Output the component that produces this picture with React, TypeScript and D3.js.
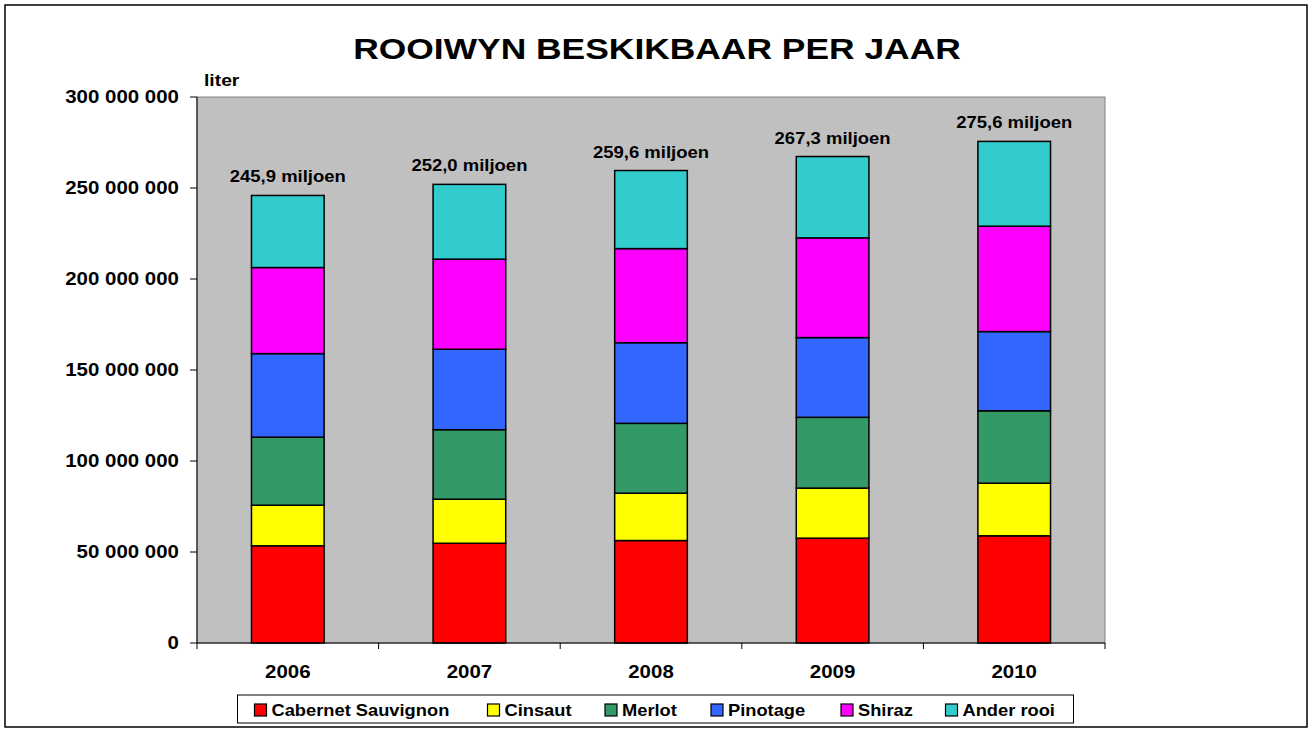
import React from "react";
import * as d3 from "d3";

const title = "ROOIWYN BESKIKBAAR PER JAAR";
const unitLabel = "liter";
const years = ["2006", "2007", "2008", "2009", "2010"];
const seriesNames = ["Cabernet Sauvignon", "Cinsaut", "Merlot", "Pinotage", "Shiraz", "Ander rooi"];
const seriesColors = ["#FF0000", "#FFFF00", "#339966", "#3366FF", "#FF00FF", "#33CCCC"];
// values in millions of litres
const cabernet = [53.4, 54.8, 56.3, 57.6, 58.9];
const cinsaut = [22.3, 24.2, 26.0, 27.5, 28.9];
const merlot = [37.4, 38.2, 38.4, 38.9, 39.8];
const pinotage = [45.9, 44.2, 44.3, 43.8, 43.5];
const shiraz = [47.3, 49.5, 51.7, 54.8, 57.9];
const anderRooi = [39.6, 41.1, 42.9, 44.7, 46.6];
const totalLabels = ["245,9 miljoen", "252,0 miljoen", "259,6 miljoen", "267,3 miljoen", "275,6 miljoen"];
const yTicks = [0, 50000000, 100000000, 150000000, 200000000, 250000000, 300000000];

const W = 1311;
const H = 731;
const plot = { left: 197, top: 97, right: 1105, bottom: 643 };
const SX = 1.17;
const FONT = "'Liberation Sans', Arial, sans-serif";
const legendSwatchX = [254.5, 487.5, 605, 711, 841, 945.5];

export default function App() {
  const seriesValues = [cabernet, cinsaut, merlot, pinotage, shiraz, anderRooi];
  const rows = years.map((y, i) => {
    const r: any = { year: y };
    seriesNames.forEach((s, k) => (r[s] = seriesValues[k][i] * 1e6));
    return r;
  });
  const stack = d3.stack().keys(seriesNames)(rows as any);

  const x = d3
    .scaleBand()
    .domain(years)
    .range([plot.left, plot.right])
    .paddingInner(0.6)
    .paddingOuter(0.3);
  const y = d3.scaleLinear().domain([0, 300000000]).range([plot.bottom, plot.top]);
  const fmt = (v: number) => d3.format(",")(v).replace(/,/g, " ");
  const step = x.step();
  const boundaries = d3.range(years.length + 1).map((i) => plot.left + (x.paddingOuter() * step - x.paddingOuter() * step) + i * step);

  const T = (props: any) => {
    const { x: tx, y: ty, size, anchor, children, sx } = props;
    return (
      <text
        transform={`translate(${tx},${ty}) scale(${sx ?? SX},1)`}
        fontSize={size}
        fontWeight="bold"
        fontFamily={FONT}
        textAnchor={anchor || "start"}
        fill="#000"
      >
        {children}
      </text>
    );
  };

  return (
    <svg
      width={W}
      height={H}
      style={{ position: "absolute", left: 0, top: 0, background: "#fff" }}
    >
      <rect x={5} y={5} width={1302} height={722} fill="#fff" stroke="#000" strokeWidth={1.5} />
      <T x={657} y={59} size={30} anchor="middle" sx={1.18}>
        {title}
      </T>
      <T x={204} y={86} size={16.5}>
        {unitLabel}
      </T>

      <rect
        x={plot.left}
        y={plot.top}
        width={plot.right - plot.left}
        height={plot.bottom - plot.top}
        fill="#C0C0C0"
        stroke="#808080"
        strokeWidth={1}
      />

      {stack.map((layer, k) =>
        layer.map((d: any, i: number) => (
          <rect
            key={`${k}-${i}`}
            x={x(years[i])}
            y={y(d[1])}
            width={x.bandwidth()}
            height={y(d[0]) - y(d[1])}
            fill={seriesColors[k]}
            stroke="#000"
            strokeWidth={1.5}
          />
        ))
      )}

      {years.map((yr, i) => {
        const top = stack[stack.length - 1][i][1];
        return (
          <T key={yr} x={(x(yr) as number) + x.bandwidth() / 2} y={y(top) - 13} size={15.8} anchor="middle">
            {totalLabels[i]}
          </T>
        );
      })}

      {/* y axis */}
      <line x1={plot.left} x2={plot.left} y1={plot.top} y2={plot.bottom} stroke="#000" strokeWidth={1} />
      {yTicks.map((t) => (
        <g key={t}>
          <line x1={plot.left - 7} x2={plot.left} y1={y(t)} y2={y(t)} stroke="#000" strokeWidth={1} />
          <text
            transform={`translate(${plot.left - 18},${y(t) + 6.3}) scale(${SX},1)`}
            fontSize={17.5}
            fontWeight="bold"
            fontFamily={FONT}
            textAnchor="end"
          >
            {fmt(t)}
          </text>
        </g>
      ))}

      {/* x axis */}
      <line x1={plot.left} x2={plot.right} y1={plot.bottom} y2={plot.bottom} stroke="#000" strokeWidth={1} />
      {boundaries.map((bx, i) => (
        <line key={i} x1={bx} x2={bx} y1={plot.bottom} y2={plot.bottom + 6} stroke="#000" strokeWidth={1} />
      ))}
      {years.map((yr) => (
        <T key={yr} x={(x(yr) as number) + x.bandwidth() / 2} y={678} size={17.5} anchor="middle">
          {yr}
        </T>
      ))}

      {/* legend */}
      <rect x={237.5} y={695} width={836} height={28} fill="#fff" stroke="#000" strokeWidth={1} />
      {seriesNames.map((s, k) => (
        <g key={s}>
          <rect
            x={legendSwatchX[k]}
            y={704}
            width={12}
            height={12}
            fill={seriesColors[k]}
            stroke="#000"
            strokeWidth={1.2}
          />
          <T x={legendSwatchX[k] + 17} y={716} size={16.2} sx={1.13}>
            {s}
          </T>
        </g>
      ))}
    </svg>
  );
}
